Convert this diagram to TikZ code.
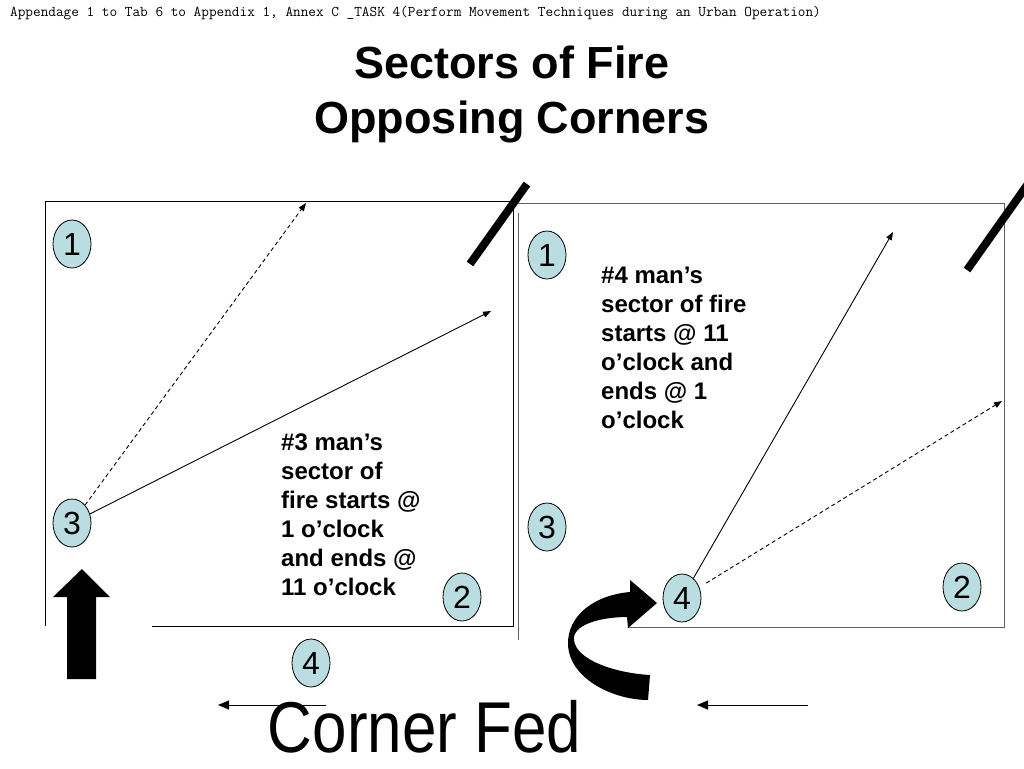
\documentclass[tikz,border=0pt]{standalone}
\usepackage{fontspec}
\setmainfont{Liberation Sans}
\usetikzlibrary{shapes.geometric,arrows.meta}
\definecolor{manblue}{HTML}{B9DDE0}
\definecolor{wallgray}{HTML}{606060}
\tikzset{
  man/.style={ellipse, draw=black, line width=0.8pt, fill=manblue, minimum width=38pt, minimum height=48pt, inner sep=0pt, font=\fontsize{32}{32}\selectfont},
  wall/.style={line width=1pt, draw=black},
  wallg/.style={line width=1pt, draw=wallgray},
  fireline/.style={line width=0.9pt, -{Triangle[length=8pt,width=6pt]}},
  slash/.style={line width=8pt, draw=black},
  note/.style={anchor=base west, align=left, inner sep=0pt, font=\bfseries\fontsize{24}{29}\selectfont},
  smallarrow/.style={line width=1pt, -{Triangle[length=11pt,width=9pt]}}
}
\begin{document}
\begin{tikzpicture}[x=1pt,y=-1pt]
\useasboundingbox (0,0) rectangle (1024,768);
\clip (0,0) rectangle (1024,768);
\fill[white] (0,0) rectangle (1024,768);

% header and title
\node[anchor=base west, inner sep=0pt, font=\ttfamily\fontsize{14.85}{16}\selectfont] (hdr) at (10,17) {Appendage 1 to Tab 6 to Appendix 1, Annex C \_TASK 4(Perform Movement Techniques during an Urban Operation)};
\node[anchor=base, inner sep=0pt, font=\bfseries\fontsize{45}{55}\selectfont] (t1) at (512,78) {Sectors of Fire};
\node[anchor=base, inner sep=0pt, font=\bfseries\fontsize{45}{55}\selectfont] (t2) at (512,133) {Opposing Corners};

% left room walls
\draw[wall] (45,626) -- (45,201.5) -- (513,201.5) -- (513,626) -- (152,626);
% right room walls
\draw[wallg] (518,640) -- (518,213);
\draw[wallg] (513,203) -- (1004,203) -- (1004,627) -- (628,627);

% door slashes
\draw[slash] (470,264) -- (527,184);
\draw[slash] (967,270) -- (1030,181);

% men, left room
\node[man] (L1) at (72,244) {1};
\node[man] (L3) at (72,523) {3};
\node[man] (L2) at (462,597) {2};
\node[man] (L4) at (311,663) {4};
% men, right room
\node[man] (R1) at (547,255) {1};
\node[man] (R3) at (547,527) {3};
\node[man] (R4) at (682,598) {4};
\node[man] (R2) at (962,587) {2};

% sectors of fire
\coordinate (La) at (306,203);
\coordinate (Lb) at (491,311);
\coordinate (Ra) at (893,232);
\coordinate (Rb) at (1002,401);
\draw[fireline, dashed, dash pattern=on 4pt off 3pt] (L3) -- (La);
\draw[fireline] (L3) -- (Lb);
\draw[fireline] (R4) -- (Ra);
\draw[fireline, dashed, dash pattern=on 4pt off 3pt, shorten <=8pt] (R4) -- (Rb);

% notes (anchor is the baseline of the last line)
\node[note] (n3) at (281,595) {\#3 man’s\\sector of\\fire starts @\\1 o’clock\\and ends @\\11 o’clock};
\node[note] (n4) at (601,428) {\#4 man’s\\sector of fire\\starts @ 11\\o’clock and\\ends @ 1\\o’clock};

% big up arrow
\fill[black] (67,679) -- (67,597) -- (53,597) -- (82,569) -- (110,597) -- (96,597) -- (96,679) -- cycle;

% curved arrow
\fill[black] (648,700) .. controls (615,700) and (570,680) .. (568,645)
  .. controls (567,615) and (595,595) .. (630,592) -- (630,580) -- (657,603) -- (628,628) -- (627,617)
  .. controls (600,617) and (572,625) .. (574,640)
  .. controls (576,660) and (615,673) .. (650,675) -- cycle;

% small arrows
\coordinate (a1s) at (326,705);
\coordinate (a1e) at (218,705);
\coordinate (a2s) at (808,705);
\coordinate (a2e) at (697,705);
\draw[smallarrow] (a1s) -- (a1e);
\draw[smallarrow] (a2s) -- (a2e);

% caption
\node[anchor=base, inner sep=0pt, font=\fontsize{72}{80}\selectfont] (cf) at (424.5,752) {\scalebox{0.86}[1]{Corner Fed}};
\end{tikzpicture}
\end{document}
